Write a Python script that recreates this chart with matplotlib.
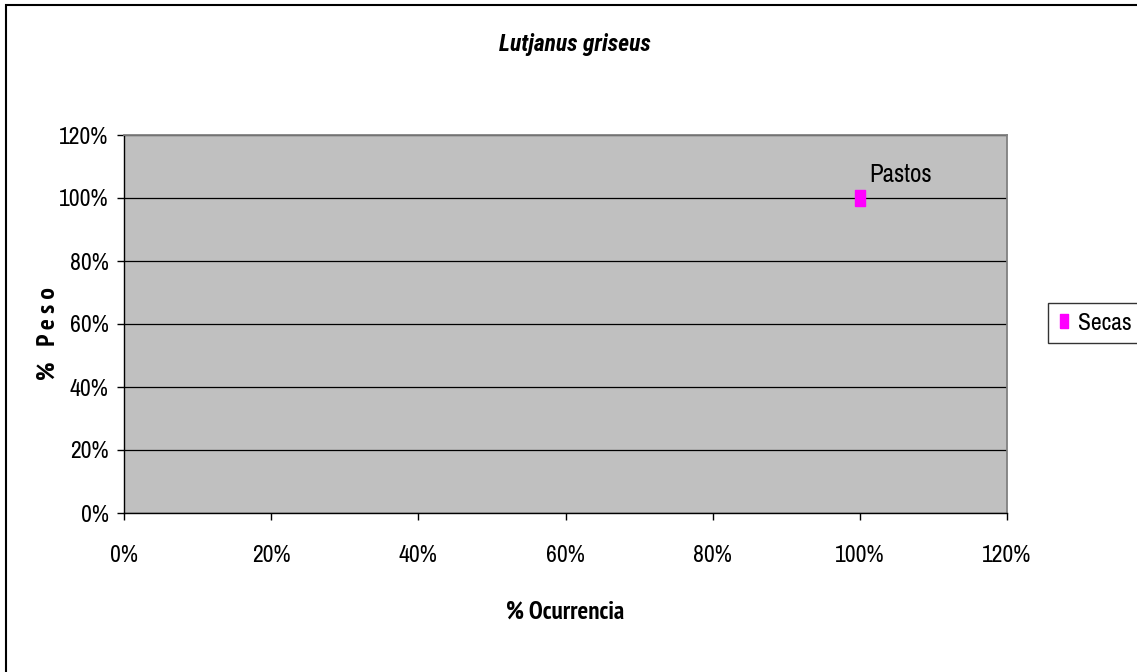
import matplotlib.pyplot as plt
from matplotlib.patches import Rectangle
from matplotlib.ticker import FuncFormatter

series_name = "Secas"
ocurrencia = [100]
peso = [100]
point_labels = ["Pastos"]
x_ticks = [0, 20, 40, 60, 80, 100, 120]
y_ticks = [0, 20, 40, 60, 80, 100, 120]

plt.rcParams["font.family"] = ["Archivo Narrow", "DejaVu Sans"]
BOLD_FAMILY = ["PT Sans Narrow", "DejaVu Sans"]
BOLD_ITALIC_FAMILY = ["Roboto Condensed", "Fira Sans Condensed", "DejaVu Sans"]

W, H = 1137, 672
fig = plt.figure(figsize=(W / 100, H / 100), dpi=100)
fig.patch.set_facecolor("white")

# outer chart frame (right and bottom edges fall outside the canvas)
fig.add_artist(Rectangle((6 / W, -0.05), 1.2, 1 - 5 / H + 0.05,
                         transform=fig.transFigure, fill=False,
                         edgecolor="black", linewidth=1.5))

ax = fig.add_axes([124 / W, 1 - 513 / H, (1007 - 124) / W, (513 - 135) / H])
ax.set_facecolor("#c0c0c0")
ax.set_xlim(0, 120)
ax.set_ylim(0, 120)
ax.set_xticks(x_ticks)
ax.set_yticks(y_ticks)
pct = FuncFormatter(lambda v, p: f"{v:.0f}%")
ax.xaxis.set_major_formatter(pct)
ax.yaxis.set_major_formatter(pct)
ax.tick_params(axis="both", labelsize=17, length=5, width=1, color="black")
ax.tick_params(axis="x", pad=18)
ax.tick_params(axis="y", pad=6)
ax.yaxis.grid(True, color="black", linewidth=0.9)
ax.set_axisbelow(True)
for side in ("top", "right"):
    ax.spines[side].set_color("#808080")
    ax.spines[side].set_linewidth(1.3)
for side in ("left", "bottom"):
    ax.spines[side].set_color("black")
    ax.spines[side].set_linewidth(1)

# tall, narrow square marker
rect_marker = [(-0.3, -0.5), (0.3, -0.5), (0.3, 0.5), (-0.3, 0.5), (-0.3, -0.5)]
ax.plot(ocurrencia, peso, linestyle="none", marker=rect_marker, markersize=12,
        color="#ff00ff", markeredgecolor="#ff00ff", zorder=5,
        label=series_name, clip_on=False)
for x, y, t in zip(ocurrencia, peso, point_labels):
    ax.annotate(t, (x, y), xytext=(7, 11.5), textcoords="offset points",
                fontsize=18, color="black", va="baseline")

fig.text(575 / W, 1 - 45 / H, "Lutjanus griseus", ha="center", va="center",
         fontsize=17, fontweight="bold", fontstyle="italic",
         family=BOLD_ITALIC_FAMILY)
fig.text(565 / W, 1 - 612 / H, "% Ocurrencia", ha="center", va="center",
         fontsize=18, fontweight="bold", family=BOLD_FAMILY)
fig.text(48 / W, 1 - 334 / H, "%   P e s o", ha="center", va="center",
         fontsize=18.5, fontweight="bold", rotation=90, family=BOLD_FAMILY)

leg = fig.legend(loc="center", bbox_to_anchor=(1094.5 / W, 1 - 323 / H),
                 fontsize=17, frameon=True, fancybox=False, markerscale=0.85,
                 handletextpad=0.3, borderpad=0.4, handlelength=0.6,
                 borderaxespad=0)
leg.get_frame().set_edgecolor("black")
leg.get_frame().set_linewidth(1)

fig.savefig("out.png", dpi=100)
